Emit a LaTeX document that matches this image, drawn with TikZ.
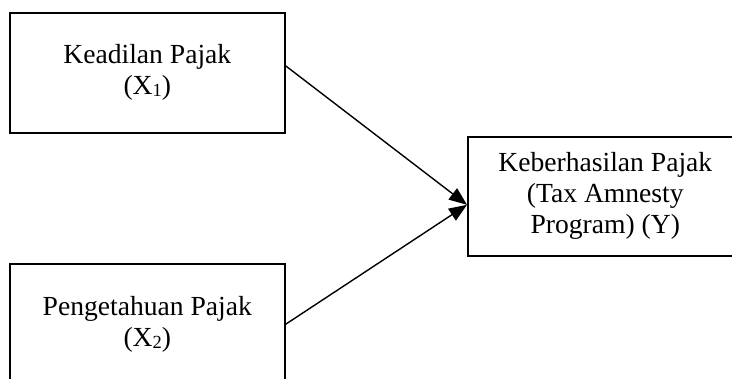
\documentclass[tikz,border=0pt]{standalone}
\usepackage{fontspec}
\setmainfont{Liberation Serif}
\usetikzlibrary{arrows.meta}
\newcommand{\subsc}[1]{\raisebox{-0.15ex}{\fontsize{18.5}{18.5}\selectfont #1}}
\begin{document}
\begin{tikzpicture}[x=1pt,y=-1pt,
  varbox/.style={draw, line width=1.6pt, anchor=north west, align=center, inner sep=0pt,
    font=\fontsize{27.6}{31}\selectfont},
  link/.style={line width=1.4pt, -{Triangle[length=18pt,width=14pt]}}]
\useasboundingbox (0,0) rectangle (732,379);
\clip (0,0) rectangle (732,379);
\node[varbox, minimum width=275pt, minimum height=120pt] (k) at (9,12)
  {Keadilan Pajak\\(X\subsc{1})};
\node[varbox, minimum width=275pt, minimum height=121pt] (p) at (9,263)
  {Pengetahuan Pajak\\(X\subsc{2})};
\node[varbox, minimum width=275pt, minimum height=119pt] (y) at (467,136)
  {Keberhasilan Pajak\\(Tax Amnesty\\Program) (Y)};
\coordinate (ks) at ([yshift=7pt]k.east);
\coordinate (yt) at ([yshift=-8.5pt]y.west);
\draw[link] (ks) -- (yt);
\draw[link] (p.east) -- (yt);
\end{tikzpicture}
\end{document}
